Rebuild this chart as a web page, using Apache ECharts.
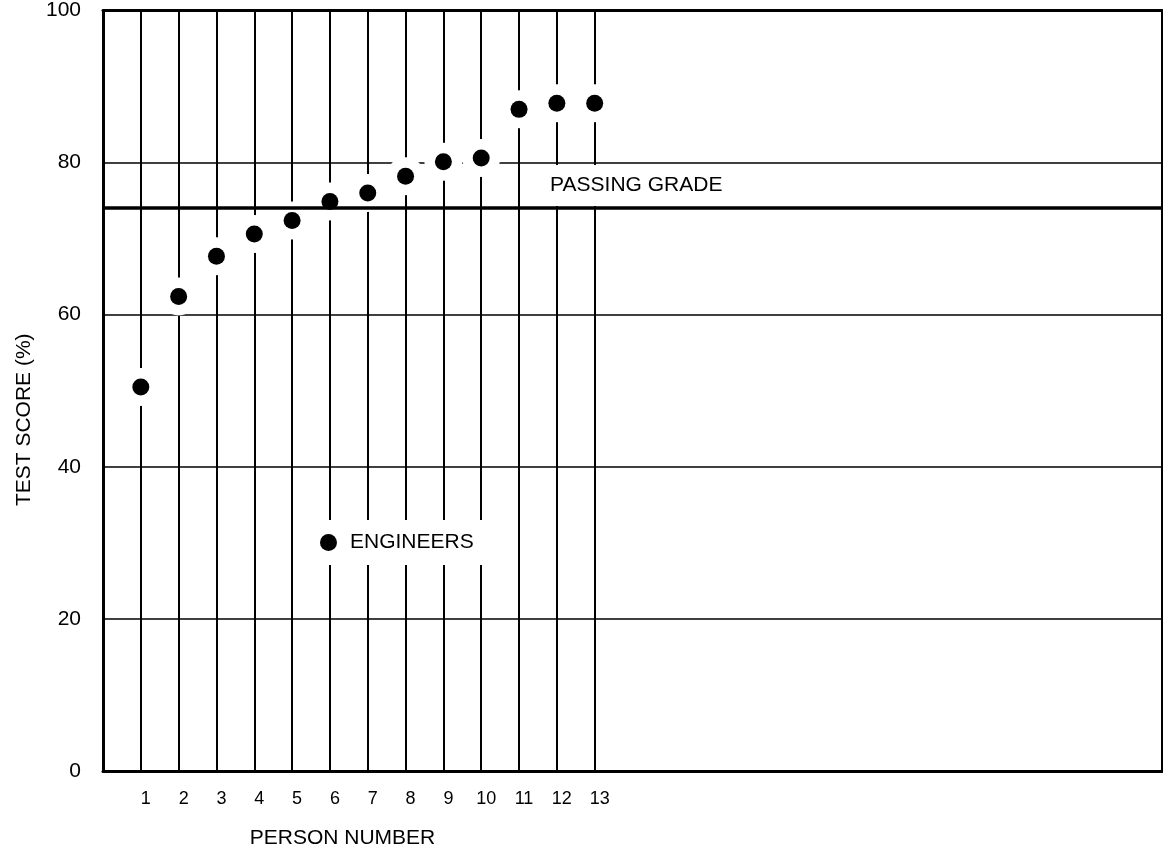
<!DOCTYPE html>
<html>
<head>
<meta charset="utf-8">
<script src="https://cdn.jsdelivr.net/npm/echarts@6/dist/echarts.min.js"></script>
<style>
html,body{margin:0;padding:0;background:#fff;}
#c{width:1163px;height:854px;}
</style>
</head>
<body>
<div id="c"></div>
<script>
// ---- data ----
const persons = [1, 2, 3, 4, 5, 6, 7, 8, 9, 10, 11, 12, 13];
const scores = [50.5, 62.4, 67.7, 70.6, 72.4, 74.9, 76.0, 78.2, 80.1, 80.6, 87.0, 87.8, 87.8];
const passingGrade = 74;
const yTicks = [0, 20, 40, 60, 80, 100];
const seriesName = 'ENGINEERS';
const passingLabel = 'PASSING GRADE';
const xTitle = 'PERSON NUMBER';
const yTitle = 'TEST SCORE (%)';

// ---- layout ----
const FONT = '"Liberation Sans", Arial, Helvetica, sans-serif';
const X_MAX = 28;
const labelBox = { x0: 11.3, x1: 16.9, yTopGap: 0.3 };

const points = persons.map((p, i) => [p, scores[i]]);

const chart = echarts.init(document.getElementById('c'), null, { renderer: 'canvas' });
chart.setOption({
  animation: false,
  backgroundColor: '#fff',
  grid: { left: 103, right: 1, top: 10, bottom: 83, show: false },
  legend: {
    data: [seriesName],
    left: 312, top: 520,
    icon: 'circle', itemWidth: 17, itemHeight: 17,
    backgroundColor: '#fff',
    padding: [12, 16, 12, 8],
    selectedMode: false,
    itemStyle: { opacity: 1 },
    textStyle: { fontFamily: FONT, fontSize: 21, color: '#000', padding: [0, 0, 0, 8] }
  },
  xAxis: [
    {
      type: 'value', min: 0, max: X_MAX, position: 'bottom',
      axisLine: { show: true, onZero: false, lineStyle: { color: '#000', width: 3 } },
      axisTick: { show: false, customValues: persons },
      axisLabel: { customValues: persons, fontFamily: FONT, fontSize: 18, color: '#000', margin: 19, padding: [0, 0, 0, 10] },
      splitLine: { show: true, lineStyle: { color: '#000', width: 2 } },
      name: xTitle, nameLocation: 'middle', nameGap: 57,
      nameTextStyle: { fontFamily: FONT, fontSize: 21, color: '#000', padding: [0, 580, 0, 0] }
    },
    {
      type: 'value', min: 0, max: X_MAX, position: 'top',
      axisLine: { show: true, onZero: false, lineStyle: { color: '#000', width: 3 } },
      axisTick: { show: false }, axisLabel: { show: false }, splitLine: { show: false }
    }
  ],
  yAxis: [
    {
      type: 'value', min: 0, max: 100, interval: 20, position: 'left',
      axisLine: { show: true, onZero: false, lineStyle: { color: '#000', width: 3 } },
      axisTick: { show: false },
      axisLabel: { customValues: yTicks, fontFamily: FONT, fontSize: 21, color: '#000', margin: 22 },
      splitLine: { show: true, lineStyle: { color: '#000', width: 1.5 } },
      name: yTitle, nameLocation: 'middle', nameRotate: 90, nameGap: 66,
      nameTextStyle: { fontFamily: FONT, fontSize: 21, color: '#000', padding: [0, 58, 0, 0] }
    },
    {
      type: 'value', min: 0, max: 100, position: 'right',
      axisLine: { show: true, onZero: false, lineStyle: { color: '#000', width: 2 } },
      axisTick: { show: false }, axisLabel: { show: false }, splitLine: { show: false }
    }
  ],
  series: [
    {
      name: 'halo', type: 'scatter', data: points, z: 2, silent: true,
      symbol: 'circle', symbolSize: 38,
      itemStyle: { color: '#fff', opacity: 1 },
      emphasis: { disabled: true }
    },
    {
      name: 'passing', type: 'scatter', data: [], z: 3, silent: true,
      markArea: {
        silent: true,
        itemStyle: { color: 'rgba(255,255,255,0)', borderWidth: 0 },
        label: {
          show: true, position: 'inside', color: '#000', fontFamily: FONT, fontSize: 21,
          backgroundColor: '#ffffff', padding: [10, 14]
        },
        data: [[
          { name: passingLabel, xAxis: labelBox.x0, yAxis: passingGrade + labelBox.yTopGap },
          { xAxis: labelBox.x1, yAxis: 80 - labelBox.yTopGap }
        ]]
      },
      markLine: {
        silent: true, symbol: 'none',
        label: { show: false },
        lineStyle: { color: '#000', width: 3.5, type: 'solid', opacity: 1 },
        data: [{ yAxis: passingGrade }]
      }
    },
    {
      name: seriesName, type: 'scatter', data: points, z: 5,
      symbol: 'circle', symbolSize: 17,
      itemStyle: { color: '#000', opacity: 1 }
    }
  ]
});
</script>
</body>
</html>
